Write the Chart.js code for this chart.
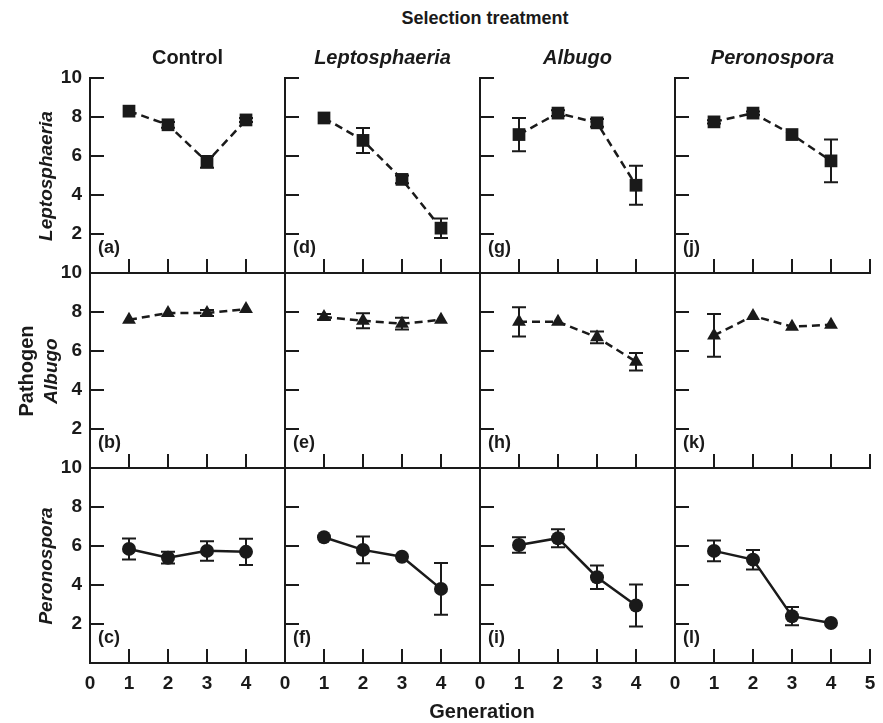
<!DOCTYPE html>
<html>
<head>
<meta charset="utf-8">
<script src="https://cdn.jsdelivr.net/npm/chart.js@4.4.0/dist/chart.umd.min.js"></script>
<style>
  body { margin: 0; background: #fff; }
  #wrap { position: relative; width: 883px; height: 723px; overflow: hidden; background: #fff; }
  #wrap canvas { position: absolute; }
  .lbl { position: absolute; font-family: "Liberation Sans", Arial, sans-serif; font-weight: bold; color: #1a1a1a; white-space: nowrap; transform: translate(-50%, -50%); }
  .rot { transform: translate(-50%, -50%) rotate(-90deg); }
  .it { font-style: italic; }
</style>
</head>
<body>
<div id="wrap"></div>
<script>
// generations on the x axis, pathogen rows, treatment columns
const generations = [1, 2, 3, 4];
const xTicks = [0, 1, 2, 3, 4];
const xTicksLast = [0, 1, 2, 3, 4, 5];
const yTicks = [2, 4, 6, 8, 10];
const treatments = ['Control', 'Leptosphaeria', 'Albugo', 'Peronospora'];
const pathogens = ['Leptosphaeria', 'Albugo', 'Peronospora'];
const panelLetters = [['a', 'd', 'g', 'j'], ['b', 'e', 'h', 'k'], ['c', 'f', 'i', 'l']];

// Leptosphaeria row (a, d, g, j)
const leptoMeans = [[8.3, 7.6, 5.7, 7.85], [7.95, 6.8, 4.8, 2.3], [7.1, 8.2, 7.7, 4.5], [7.75, 8.2, 7.1, 5.75]];
const leptoErrors = [[0, 0.15, 0.3, 0.1], [0, 0.64, 0.2, 0.5], [0.85, 0.15, 0.2, 1.0], [0.08, 0.08, 0, 1.1]];
// Albugo row (b, e, h, k)
const albugoMeans = [[7.6, 7.95, 7.95, 8.15], [7.75, 7.55, 7.4, 7.6], [7.5, 7.5, 6.7, 5.45], [6.8, 7.8, 7.25, 7.35]];
const albugoErrors = [[0, 0, 0.15, 0], [0.15, 0.38, 0.3, 0], [0.75, 0, 0.3, 0.45], [1.1, 0, 0, 0]];
// Peronospora row (c, f, i, l)
const peronoMeans = [[5.85, 5.4, 5.75, 5.7], [6.45, 5.8, 5.45, 3.8], [6.05, 6.4, 4.4, 2.95], [5.75, 5.3, 2.4, 2.05]];
const peronoErrors = [[0.54, 0.3, 0.5, 0.67], [0, 0.69, 0, 1.33], [0.4, 0.46, 0.6, 1.08], [0.53, 0.5, 0.47, 0]];

const rowMeans = [leptoMeans, albugoMeans, peronoMeans];
const rowErrors = [leptoErrors, albugoErrors, peronoErrors];
const markerStyles = ['rect', 'triangle', 'circle'];
const markerSizes = [9, 8, 7];

const ink = '#1a1a1a';
const font = 'Liberation Sans';
const panel = 195, plotLeft = 90, plotTop = 78;
const padL = 60, padT = 12, padR = 16, padB = 40, tickLen = 14;

const wrap = document.getElementById('wrap');

function addLabel(text, cx, cy, size, cls) {
    const d = document.createElement('div');
    d.className = 'lbl ' + (cls || '');
    d.textContent = text;
    d.style.left = cx + 'px';
    d.style.top = cy + 'px';
    d.style.fontSize = size + 'px';
    wrap.appendChild(d);
}

// keep every panel's plot box the same size, whatever its tick labels
function fixBox(s) {
    if (s.isHorizontal()) s.height = padB; else s.width = padL;
    s.paddingTop = 0; s.paddingBottom = 0;
    s.paddingLeft = 0; s.paddingRight = 0;
}

const inwardTicks = {
    id: 'inwardTicks',
    beforeDatasetsDraw(chart, args, opts) {
        const { ctx, chartArea, scales } = chart;
        ctx.save();
        ctx.strokeStyle = ink;
        ctx.lineWidth = 2;
        ctx.beginPath();
        opts.x.forEach(v => {
            const px = scales.x.getPixelForValue(v);
            ctx.moveTo(px, chartArea.bottom);
            ctx.lineTo(px, chartArea.bottom - tickLen);
        });
        yTicks.forEach(v => {
            const py = scales.y.getPixelForValue(v);
            ctx.moveTo(chartArea.left, py);
            ctx.lineTo(chartArea.left + tickLen, py);
        });
        ctx.stroke();
        ctx.restore();
    }
};

const errorBars = {
    id: 'errorBars',
    beforeDatasetsDraw(chart) {
        const { ctx, scales } = chart;
        ctx.save();
        ctx.strokeStyle = ink;
        ctx.lineWidth = 2;
        chart.data.datasets.forEach(ds => {
            ds.data.forEach((p, i) => {
                const e = ds.errors[i];
                if (!e) return;
                const px = scales.x.getPixelForValue(p.x);
                const top = scales.y.getPixelForValue(p.y + e);
                const bot = scales.y.getPixelForValue(p.y - e);
                ctx.beginPath();
                ctx.moveTo(px, top); ctx.lineTo(px, bot);
                ctx.moveTo(px - 7, top); ctx.lineTo(px + 7, top);
                ctx.moveTo(px - 7, bot); ctx.lineTo(px + 7, bot);
                ctx.stroke();
            });
        });
        ctx.restore();
    }
};

const panelTag = {
    id: 'panelTag',
    afterDraw(chart, args, opts) {
        const { ctx, chartArea } = chart;
        ctx.save();
        ctx.fillStyle = ink;
        ctx.font = 'bold 18px "' + font + '"';
        ctx.textBaseline = 'middle';
        ctx.fillText('(' + opts.text + ')', chartArea.left + 8, chartArea.bottom - 25);
        ctx.restore();
    }
};

function makePanel(row, col) {
    const canvas = document.createElement('canvas');
    const w = padL + panel + padR, h = padT + panel + padB;
    canvas.width = w;
    canvas.height = h;
    canvas.style.left = (plotLeft + col * panel - padL) + 'px';
    canvas.style.top = (plotTop + row * panel - padT) + 'px';
    canvas.style.width = w + 'px';
    canvas.style.height = h + 'px';
    wrap.appendChild(canvas);

    const lastCol = col === 3;
    const xs = lastCol ? xTicksLast : xTicks;

    new Chart(canvas.getContext('2d'), {
        type: 'line',
        data: {
            datasets: [{
                data: generations.map((g, i) => ({ x: g, y: rowMeans[row][col][i] })),
                errors: rowErrors[row][col],
                borderColor: ink,
                backgroundColor: ink,
                borderWidth: 2.5,
                borderDash: row < 2 ? [8, 5] : [],
                pointStyle: markerStyles[row],
                pointRadius: markerSizes[row],
                pointBorderWidth: 0,
                tension: 0
            }]
        },
        options: {
            responsive: false,
            animation: false,
            events: [],
            layout: { padding: { top: padT, right: padR, left: 0, bottom: 0 } },
            plugins: {
                legend: { display: false },
                tooltip: { enabled: false },
                inwardTicks: { x: lastCol ? [1, 2, 3, 4, 5] : [1, 2, 3, 4] },
                panelTag: { text: panelLetters[row][col] }
            },
            scales: {
                x: {
                    type: 'linear', min: 0, max: 5,
                    afterBuildTicks: axis => { axis.ticks = xs.map(v => ({ value: v })); },
                    afterFit: fixBox,
                    grid: { display: false, drawTicks: false },
                    border: { display: true, color: ink, width: 2 },
                    ticks: {
                        display: row === 2, padding: 9, color: ink, autoSkip: false, maxRotation: 0,
                        font: { family: font, size: 19, weight: 'bold' }
                    }
                },
                y: {
                    min: 0, max: 10,
                    afterBuildTicks: axis => { axis.ticks = yTicks.map(v => ({ value: v })); },
                    afterFit: fixBox,
                    grid: { display: false, drawTicks: false },
                    border: { display: true, color: ink, width: 2 },
                    ticks: {
                        display: col === 0, padding: 8, color: ink,
                        font: { family: font, size: 19, weight: 'bold' }
                    }
                }
            }
        },
        plugins: [inwardTicks, errorBars, panelTag]
    });
}

for (let r = 0; r < 3; r++) {
    for (let c = 0; c < 4; c++) makePanel(r, c);
}

addLabel('Selection treatment', 485, 18, 18, '');
treatments.forEach((t, c) => addLabel(t, plotLeft + c * panel + panel / 2, 57, 20, c === 0 ? '' : 'it'));
addLabel(pathogens[0], 46, plotTop + panel / 2, 19, 'rot it');
addLabel('Pathogen', 26, plotTop + panel * 1.5, 20, 'rot');
addLabel(pathogens[1], 51, plotTop + panel * 1.5, 19, 'rot it');
addLabel(pathogens[2], 46, plotTop + panel * 2.5, 19, 'rot it');
addLabel('Generation', 482, 711, 20, '');
</script>
</body>
</html>
